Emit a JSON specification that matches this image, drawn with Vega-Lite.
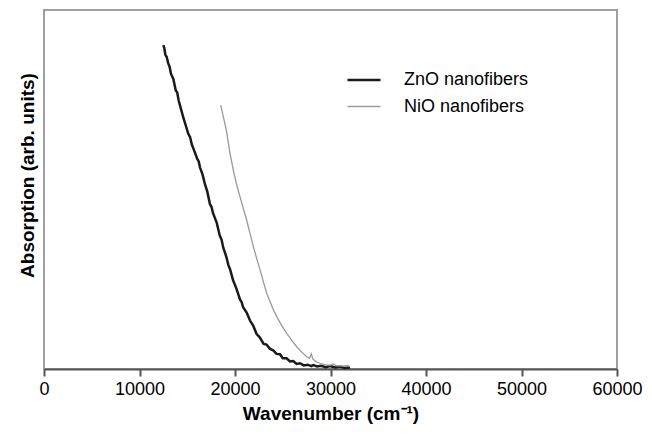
{
  "$schema": "https://vega.github.io/schema/vega-lite/v6.json",
  "width": 573,
  "height": 359,
  "autosize": "none",
  "padding": {"left": 44, "top": 10, "right": 35, "bottom": 76},
  "background": "white",
  "config": {
    "view": {"stroke": "#a0a0a0", "strokeWidth": 2},
    "font": "Liberation Sans"
  },
  "datasets": {
    "spectra": [
      {"series": "ZnO nanofibers", "wn": 12490, "abs": 0.902},
      {"series": "ZnO nanofibers", "wn": 12600, "abs": 0.894},
      {"series": "ZnO nanofibers", "wn": 12700, "abs": 0.876},
      {"series": "ZnO nanofibers", "wn": 12850, "abs": 0.869},
      {"series": "ZnO nanofibers", "wn": 13000, "abs": 0.852},
      {"series": "ZnO nanofibers", "wn": 13150, "abs": 0.842},
      {"series": "ZnO nanofibers", "wn": 13300, "abs": 0.822},
      {"series": "ZnO nanofibers", "wn": 13540, "abs": 0.808},
      {"series": "ZnO nanofibers", "wn": 13800, "abs": 0.776},
      {"series": "ZnO nanofibers", "wn": 13950, "abs": 0.770},
      {"series": "ZnO nanofibers", "wn": 14100, "abs": 0.748},
      {"series": "ZnO nanofibers", "wn": 14350, "abs": 0.724},
      {"series": "ZnO nanofibers", "wn": 14590, "abs": 0.700},
      {"series": "ZnO nanofibers", "wn": 14850, "abs": 0.678},
      {"series": "ZnO nanofibers", "wn": 15100, "abs": 0.656},
      {"series": "ZnO nanofibers", "wn": 15300, "abs": 0.646},
      {"series": "ZnO nanofibers", "wn": 15470, "abs": 0.626},
      {"series": "ZnO nanofibers", "wn": 15750, "abs": 0.607},
      {"series": "ZnO nanofibers", "wn": 16050, "abs": 0.585},
      {"series": "ZnO nanofibers", "wn": 16200, "abs": 0.578},
      {"series": "ZnO nanofibers", "wn": 16340, "abs": 0.561},
      {"series": "ZnO nanofibers", "wn": 16600, "abs": 0.542},
      {"series": "ZnO nanofibers", "wn": 16860, "abs": 0.514},
      {"series": "ZnO nanofibers", "wn": 17100, "abs": 0.494},
      {"series": "ZnO nanofibers", "wn": 17380, "abs": 0.459},
      {"series": "ZnO nanofibers", "wn": 17550, "abs": 0.451},
      {"series": "ZnO nanofibers", "wn": 17700, "abs": 0.434},
      {"series": "ZnO nanofibers", "wn": 18080, "abs": 0.408},
      {"series": "ZnO nanofibers", "wn": 18400, "abs": 0.372},
      {"series": "ZnO nanofibers", "wn": 18600, "abs": 0.360},
      {"series": "ZnO nanofibers", "wn": 18770, "abs": 0.338},
      {"series": "ZnO nanofibers", "wn": 19100, "abs": 0.312},
      {"series": "ZnO nanofibers", "wn": 19300, "abs": 0.290},
      {"series": "ZnO nanofibers", "wn": 19480, "abs": 0.278},
      {"series": "ZnO nanofibers", "wn": 19800, "abs": 0.247},
      {"series": "ZnO nanofibers", "wn": 20150, "abs": 0.224},
      {"series": "ZnO nanofibers", "wn": 20520, "abs": 0.194},
      {"series": "ZnO nanofibers", "wn": 20700, "abs": 0.186},
      {"series": "ZnO nanofibers", "wn": 20850, "abs": 0.172},
      {"series": "ZnO nanofibers", "wn": 21220, "abs": 0.157},
      {"series": "ZnO nanofibers", "wn": 21570, "abs": 0.135},
      {"series": "ZnO nanofibers", "wn": 21920, "abs": 0.120},
      {"series": "ZnO nanofibers", "wn": 22250, "abs": 0.098},
      {"series": "ZnO nanofibers", "wn": 22620, "abs": 0.087},
      {"series": "ZnO nanofibers", "wn": 23000, "abs": 0.070},
      {"series": "ZnO nanofibers", "wn": 23300, "abs": 0.068},
      {"series": "ZnO nanofibers", "wn": 23660, "abs": 0.056},
      {"series": "ZnO nanofibers", "wn": 24000, "abs": 0.052},
      {"series": "ZnO nanofibers", "wn": 24350, "abs": 0.042},
      {"series": "ZnO nanofibers", "wn": 24710, "abs": 0.041},
      {"series": "ZnO nanofibers", "wn": 25000, "abs": 0.030},
      {"series": "ZnO nanofibers", "wn": 25400, "abs": 0.030},
      {"series": "ZnO nanofibers", "wn": 25760, "abs": 0.021},
      {"series": "ZnO nanofibers", "wn": 26100, "abs": 0.022},
      {"series": "ZnO nanofibers", "wn": 26450, "abs": 0.014},
      {"series": "ZnO nanofibers", "wn": 26810, "abs": 0.016},
      {"series": "ZnO nanofibers", "wn": 27200, "abs": 0.010},
      {"series": "ZnO nanofibers", "wn": 27600, "abs": 0.012},
      {"series": "ZnO nanofibers", "wn": 28000, "abs": 0.008},
      {"series": "ZnO nanofibers", "wn": 28200, "abs": 0.011},
      {"series": "ZnO nanofibers", "wn": 28600, "abs": 0.007},
      {"series": "ZnO nanofibers", "wn": 29000, "abs": 0.009},
      {"series": "ZnO nanofibers", "wn": 29500, "abs": 0.005},
      {"series": "ZnO nanofibers", "wn": 29950, "abs": 0.008},
      {"series": "ZnO nanofibers", "wn": 30500, "abs": 0.004},
      {"series": "ZnO nanofibers", "wn": 31000, "abs": 0.007},
      {"series": "ZnO nanofibers", "wn": 31500, "abs": 0.003},
      {"series": "ZnO nanofibers", "wn": 32040, "abs": 0.004},
      {"series": "NiO nanofibers", "wn": 18500, "abs": 0.735},
      {"series": "NiO nanofibers", "wn": 18800, "abs": 0.700},
      {"series": "NiO nanofibers", "wn": 19130, "abs": 0.660},
      {"series": "NiO nanofibers", "wn": 19450, "abs": 0.605},
      {"series": "NiO nanofibers", "wn": 19820, "abs": 0.554},
      {"series": "NiO nanofibers", "wn": 20150, "abs": 0.516},
      {"series": "NiO nanofibers", "wn": 20520, "abs": 0.480},
      {"series": "NiO nanofibers", "wn": 20870, "abs": 0.447},
      {"series": "NiO nanofibers", "wn": 21220, "abs": 0.415},
      {"series": "NiO nanofibers", "wn": 21570, "abs": 0.378},
      {"series": "NiO nanofibers", "wn": 21920, "abs": 0.341},
      {"series": "NiO nanofibers", "wn": 22270, "abs": 0.308},
      {"series": "NiO nanofibers", "wn": 22620, "abs": 0.276},
      {"series": "NiO nanofibers", "wn": 22970, "abs": 0.243},
      {"series": "NiO nanofibers", "wn": 23320, "abs": 0.211},
      {"series": "NiO nanofibers", "wn": 23660, "abs": 0.188},
      {"series": "NiO nanofibers", "wn": 24000, "abs": 0.166},
      {"series": "NiO nanofibers", "wn": 24370, "abs": 0.146},
      {"series": "NiO nanofibers", "wn": 24900, "abs": 0.121},
      {"series": "NiO nanofibers", "wn": 25410, "abs": 0.099},
      {"series": "NiO nanofibers", "wn": 25950, "abs": 0.080},
      {"series": "NiO nanofibers", "wn": 26460, "abs": 0.062},
      {"series": "NiO nanofibers", "wn": 27000, "abs": 0.047},
      {"series": "NiO nanofibers", "wn": 27510, "abs": 0.034},
      {"series": "NiO nanofibers", "wn": 27800, "abs": 0.030},
      {"series": "NiO nanofibers", "wn": 28000, "abs": 0.042},
      {"series": "NiO nanofibers", "wn": 28150, "abs": 0.028},
      {"series": "NiO nanofibers", "wn": 28500, "abs": 0.020},
      {"series": "NiO nanofibers", "wn": 28900, "abs": 0.016},
      {"series": "NiO nanofibers", "wn": 29400, "abs": 0.012},
      {"series": "NiO nanofibers", "wn": 29950, "abs": 0.010},
      {"series": "NiO nanofibers", "wn": 30300, "abs": 0.014},
      {"series": "NiO nanofibers", "wn": 30600, "abs": 0.009},
      {"series": "NiO nanofibers", "wn": 31340, "abs": 0.008},
      {"series": "NiO nanofibers", "wn": 31800, "abs": 0.010},
      {"series": "NiO nanofibers", "wn": 32000, "abs": 0.006}
    ]
  },
  "data": {"name": "spectra"},
  "mark": {"type": "line", "interpolate": "linear"},
  "encoding": {
    "x": {
      "field": "wn",
      "type": "quantitative",
      "scale": {"domain": [0, 60000], "nice": false, "zero": false},
      "axis": {
        "title": "Wavenumber (cm⁻¹)",
        "values": [0, 10000, 20000, 30000, 40000, 50000, 60000],
        "format": "d",
        "grid": false,
        "domainColor": "#555555",
        "domainWidth": 2,
        "tickColor": "#555555",
        "tickWidth": 2,
        "tickSize": 7,
        "labelFont": "Liberation Sans",
        "labelFontSize": 18,
        "labelColor": "#000000",
        "labelPadding": 4,
        "labelFlush": false,
        "labelOverlap": false,
        "titleFont": "Liberation Sans",
        "titleFontSize": 19,
        "titleFontWeight": "bold",
        "titleColor": "#000000",
        "titleBaseline": "alphabetic",
        "titleY": 50
      }
    },
    "y": {
      "field": "abs",
      "type": "quantitative",
      "scale": {"domain": [0, 1], "nice": false},
      "axis": {
        "title": "Absorption (arb. units)",
        "domain": false,
        "ticks": false,
        "labels": false,
        "grid": false,
        "titleFont": "Liberation Sans",
        "titleFontSize": 19,
        "titleFontWeight": "bold",
        "titleColor": "#000000",
        "titleAngle": 270,
        "titleBaseline": "middle",
        "titleAlign": "center",
        "titleX": -17,
        "titleY": 165
      }
    },
    "color": {
      "field": "series",
      "type": "nominal",
      "scale": {"domain": ["ZnO nanofibers", "NiO nanofibers"], "range": ["#1a1a1a", "#9a9a9a"]},
      "legend": {
        "title": null,
        "orient": "none",
        "legendX": 302,
        "legendY": 52,
        "symbolType": "stroke",
        "symbolSize": 1089,
        "labelOffset": 22,
        "labelFont": "Liberation Sans",
        "labelFontSize": 18,
        "labelColor": "#000000",
        "rowPadding": -1,
        "padding": 0
      }
    },
    "strokeWidth": {
      "field": "series",
      "type": "nominal",
      "scale": {"domain": ["ZnO nanofibers", "NiO nanofibers"], "range": [2.5, 1.3]},
      "legend": null
    }
  }
}
